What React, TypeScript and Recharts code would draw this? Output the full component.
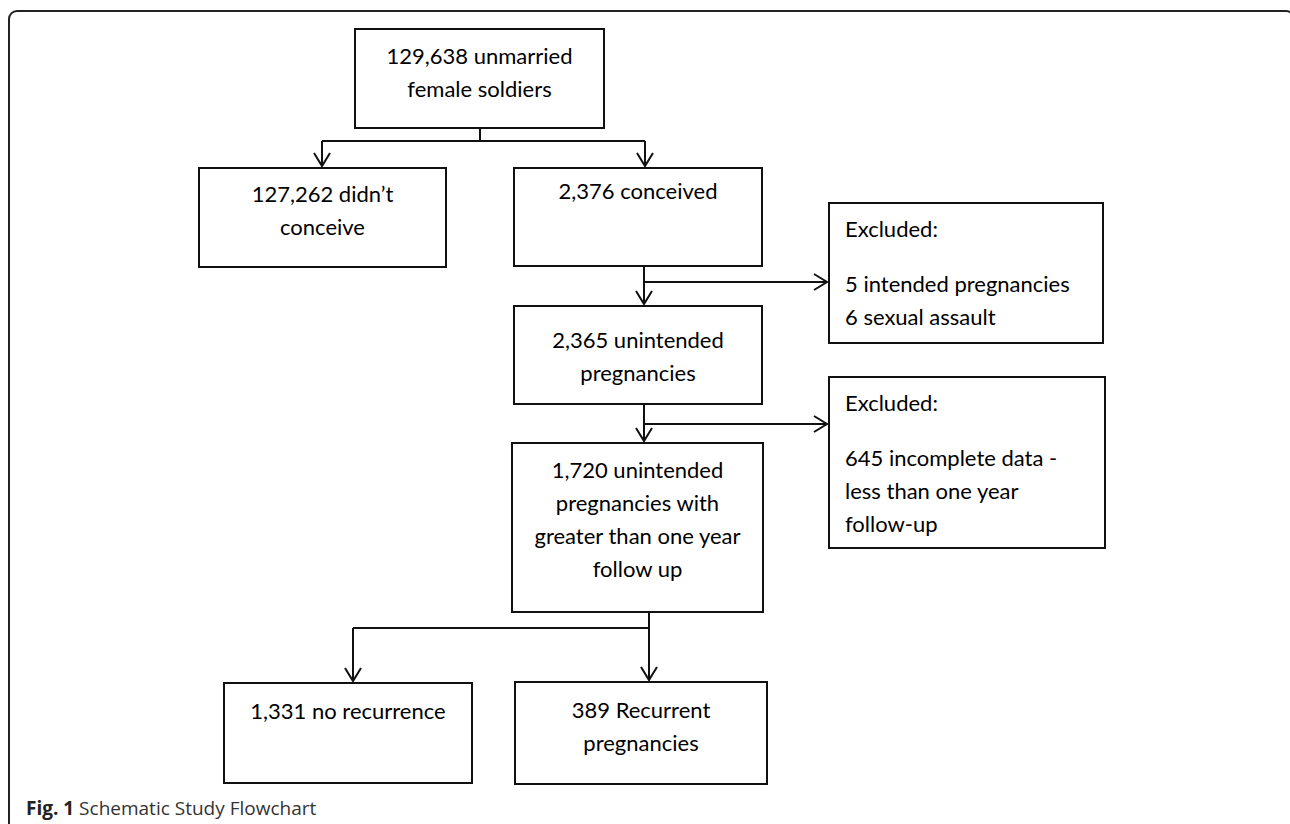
import React from 'react';
import { ComposedChart, XAxis, YAxis, Scatter, ReferenceArea, ReferenceLine } from 'recharts';

const W = 1290;
const H = 824;

// Box texts, one entry per box ('' = short blank line)
const boxLines: string[][] = [
  ['129,638 unmarried', 'female soldiers'],
  ['127,262 didn’t', 'conceive'],
  ['2,376 conceived'],
  ['Excluded:', '', '5 intended pregnancies', '6 sexual assault'],
  ['2,365 unintended', 'pregnancies'],
  ['Excluded:', '', '645 incomplete data -', 'less than one year', 'follow-up'],
  ['1,720 unintended', 'pregnancies with', 'greater than one year', 'follow up'],
  ['1,331 no recurrence'],
  ['389 Recurrent', 'pregnancies'],
];
const boxAlign = ['middle', 'middle', 'middle', 'start', 'middle', 'start', 'middle', 'middle', 'middle'];

// Box outlines in page units (x to the right, y downwards)
const boxX1 = [355, 199, 514, 829, 514, 829, 512, 224, 515];
const boxX2 = [604, 446, 762, 1103, 762, 1105, 763, 472, 767];
const boxY1 = [29, 168, 168, 203, 306, 377, 443, 683, 682];
const boxY2 = [128, 267, 266, 343, 404, 548, 612, 783, 784];
const boxPad = [26, 25, 22, 25, 33, 25, 26, 27, 27];

// Connector segments [x1, y1, x2, y2]
const connectors: number[][] = [
  [480, 128, 480, 141],
  [322, 141, 645, 141],
  [322, 141, 322, 166],
  [645, 141, 645, 166],
  [644, 266, 644, 304],
  [644, 282, 827, 282],
  [644, 404, 644, 441],
  [644, 424, 827, 424],
  [649, 612, 649, 680],
  [353, 628, 649, 628],
  [353, 628, 353, 681],
];

// Arrow tips
const arrowTips = [
  { x: 322, y: 166, dir: 'down' },
  { x: 645, y: 166, dir: 'down' },
  { x: 644, y: 304, dir: 'down' },
  { x: 827, y: 282, dir: 'right' },
  { x: 644, y: 441, dir: 'down' },
  { x: 827, y: 424, dir: 'right' },
  { x: 353, y: 681, dir: 'down' },
  { x: 649, y: 680, dir: 'down' },
];

const INK = '#111';
const FONT = 'Lato, "Liberation Sans", sans-serif';

const Arrowhead = (props: any) => {
  const { cx, cy, payload } = props;
  const d =
    payload.dir === 'right'
      ? `M${cx - 13},${cy - 8} L${cx},${cy} L${cx - 13},${cy + 8}`
      : `M${cx - 8},${cy - 13} L${cx},${cy} L${cx + 8},${cy - 13}`;
  return <path d={d} fill="none" stroke={INK} strokeWidth={2} />;
};

const BoxText = (props: any) => {
  const { viewBox, lines, align, pad } = props;
  if (!viewBox) return null;
  const tx = align === 'start' ? viewBox.x + 16 : viewBox.x + viewBox.width / 2;
  let cy = viewBox.y + pad;
  const out: React.ReactNode[] = [];
  lines.forEach((t: string, i: number) => {
    if (t) {
      out.push(
        <text
          key={i}
          x={tx}
          y={cy}
          textAnchor={align}
          dominantBaseline="central"
          fontFamily={FONT}
          fontSize={22}
          fill="#000"
        >
          {t}
        </text>
      );
      cy += 33;
    } else {
      cy += 22;
    }
  });
  return <g>{out}</g>;
};

export default function App() {
  return (
    <div
      style={{
        position: 'fixed',
        left: 0,
        top: 0,
        width: W,
        height: H,
        overflow: 'hidden',
        background: '#fff',
      }}
    >
      {/* figure frame, right side runs off the page */}
      <div
        style={{
          position: 'absolute',
          left: 8,
          top: 10,
          width: 1287,
          height: 900,
          border: `2px solid #222`,
          borderRadius: 9,
          boxSizing: 'border-box',
        }}
      />
      <div style={{ position: 'absolute', left: 0, top: 0 }}>
        <ComposedChart width={W} height={H} margin={{ top: 0, right: 0, bottom: 0, left: 0 }}>
          <XAxis type="number" dataKey="x" domain={[0, W]} allowDataOverflow hide />
          <YAxis type="number" dataKey="y" domain={[0, H]} reversed allowDataOverflow hide />
          {boxLines.map((lines, i) => (
            <ReferenceArea
              key={`box-${i}`}
              x1={boxX1[i]}
              x2={boxX2[i]}
              y1={boxY1[i]}
              y2={boxY2[i]}
              fill="#fff"
              fillOpacity={1}
              stroke={INK}
              strokeWidth={2}
              label={(p: any) => <BoxText {...p} lines={lines} align={boxAlign[i]} pad={boxPad[i]} />}
            />
          ))}
          {connectors.map((c, i) => (
            <ReferenceLine
              key={`ln-${i}`}
              segment={[
                { x: c[0], y: c[1] },
                { x: c[2], y: c[3] },
              ]}
              stroke={INK}
              strokeWidth={2}
            />
          ))}
          <Scatter data={arrowTips} dataKey="y" shape={<Arrowhead />} isAnimationActive={false} />
        </ComposedChart>
      </div>
      <div
        style={{
          position: 'absolute',
          left: 26,
          top: 795,
          fontFamily: '"Open Sans", sans-serif',
          fontSize: 19,
          color: '#333',
          whiteSpace: 'nowrap',
        }}
      >
        <span style={{ fontWeight: 700, color: '#222' }}>Fig. 1</span> Schematic Study Flowchart
      </div>
    </div>
  );
}
